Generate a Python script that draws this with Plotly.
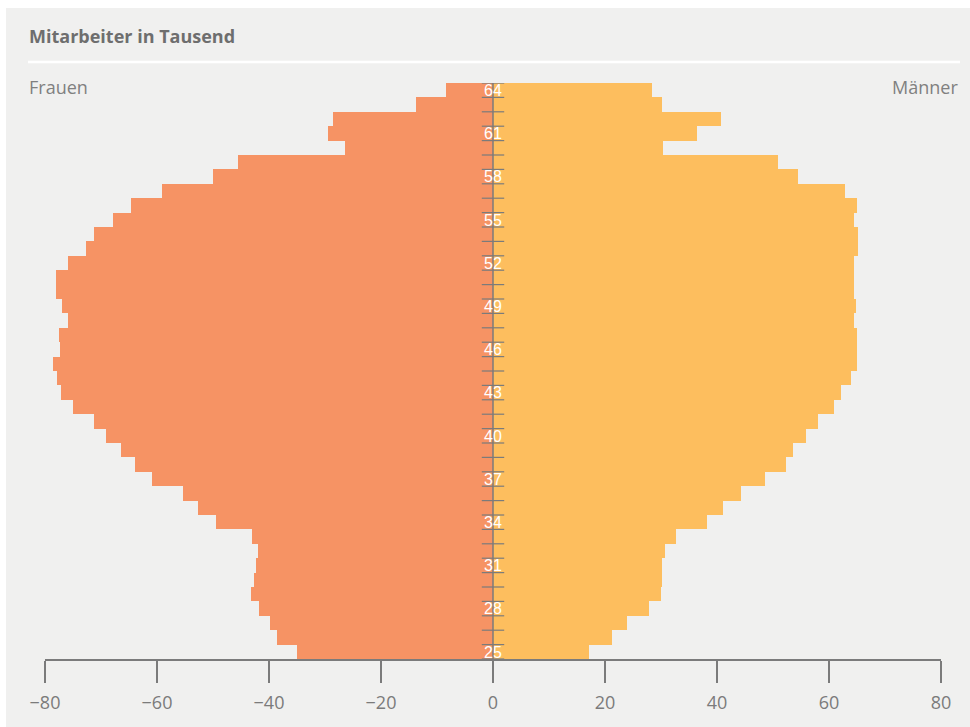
import plotly.graph_objects as go

ages = list(range(64, 24, -1))  # 64 .. 25
women = [-8.4, -13.75, -28.6, -29.5, -26.4, -45.5, -50.0, -59.1, -64.6, -67.9,
         -71.25, -72.7, -75.9, -78.0, -78.0, -77.0, -75.9, -77.5, -77.3, -78.6,
         -77.9, -77.1, -75.0, -71.25, -69.1, -66.4, -63.9, -60.9, -55.4, -52.7,
         -49.5, -43.0, -42.0, -42.3, -42.7, -43.2, -41.8, -39.8, -38.6, -35.0]
men = [28.4, 30.2, 40.7, 36.4, 30.4, 50.9, 54.5, 62.9, 65.0, 64.5,
       65.2, 65.2, 64.5, 64.5, 64.5, 64.8, 64.5, 65.0, 65.0, 65.0,
       63.9, 62.1, 60.9, 58.0, 55.9, 53.6, 52.3, 48.6, 44.3, 41.1,
       38.2, 32.7, 30.7, 30.2, 30.2, 30.0, 27.9, 23.9, 21.3, 17.1]
age_labels = list(range(64, 24, -3))  # 64, 61, ..., 25
x_ticks = [-80, -60, -40, -20, 0, 20, 40, 60, 80]

title_text = "Mitarbeiter in Tausend"
left_label = "Frauen"
right_label = "Männer"

BG = "#f0f0ef"
GRAY = "#7b7b7b"
FONT = "'Open Sans', Roboto, Arial, sans-serif"

W, H = 970, 727
ML, MR, MT, MB = 45, 29, 83, 68
PW = W - ML - MR
PH = H - MT - MB


def px_x(p):
    return (p - ML) / PW


def px_y(p):
    return (H - MB - p) / PH


fig = go.Figure()
fig.add_trace(go.Bar(y=ages, x=women, orientation="h", marker=dict(color="#f69364", line=dict(width=0)),
                     name=left_label, hoverinfo="skip"))
fig.add_trace(go.Bar(y=ages, x=men, orientation="h", marker=dict(color="#fdbe5e", line=dict(width=0)),
                     name=right_label, hoverinfo="skip"))

# center axis line
lo, hi = min(ages) - 0.5, max(ages) + 0.5
fig.add_trace(go.Scatter(x=[0, 0], y=[lo, hi], mode="lines",
                         line=dict(color=GRAY, width=1.5), hoverinfo="skip", cliponaxis=False))

# tick marks at every year boundary
tx, ty = [], []
for a in ages + [min(ages) - 1]:
    b = a + 0.5
    tx += [-2, 2, None]
    ty += [b, b, None]
fig.add_trace(go.Scatter(x=tx, y=ty, mode="lines", line=dict(color=GRAY, width=1.2),
                         hoverinfo="skip", cliponaxis=False))

# age labels
fig.add_trace(go.Scatter(x=[0] * len(age_labels), y=[a - 0.12 for a in age_labels], mode="text",
                         text=[str(a) for a in age_labels],
                         textfont=dict(color="white", size=16, family="'Liberation Sans', Arial, sans-serif"),
                         hoverinfo="skip", cliponaxis=False))

fig.update_layout(
    width=W, height=H,
    margin=dict(l=ML, r=MR, t=MT, b=MB),
    paper_bgcolor="white",
    plot_bgcolor=BG,
    barmode="overlay",
    bargap=0,
    showlegend=False,
    font=dict(family=FONT, color=GRAY),
    xaxis=dict(range=[-80, 80], tickvals=x_ticks, showgrid=False, zeroline=False,
               showline=True, linecolor=GRAY, linewidth=1.5,
               ticks="outside", ticklen=22, tickcolor=GRAY, tickwidth=1.5,
               ticklabelstandoff=5,
               tickfont=dict(size=18, color=GRAY, family=FONT), fixedrange=True),
    yaxis=dict(range=[lo, hi], visible=False, fixedrange=True),
    shapes=[
        dict(type="rect", xref="paper", yref="paper", x0=px_x(6), x1=px_x(972),
             y0=px_y(730), y1=px_y(8), fillcolor=BG, line=dict(width=0), layer="below"),
        dict(type="line", xref="paper", yref="paper", x0=px_x(28), x1=px_x(960),
             y0=px_y(62), y1=px_y(62), line=dict(color="white", width=2.5)),
    ],
    annotations=[
        dict(text="<b>" + title_text + "</b>", xref="paper", yref="paper", x=px_x(27), y=px_y(36),
             xanchor="left", yanchor="middle", showarrow=False,
             font=dict(size=18, color="#6e6e6e", family=FONT)),
        dict(text=left_label, xref="paper", yref="paper", x=px_x(27), y=px_y(87),
             xanchor="left", yanchor="middle", showarrow=False,
             font=dict(size=18, color="#808080", family=FONT)),
        dict(text=right_label, xref="paper", yref="paper", x=px_x(960), y=px_y(87),
             xanchor="right", yanchor="middle", showarrow=False,
             font=dict(size=18, color="#808080", family=FONT)),
    ],
)

fig.write_html("out.html", config={"displayModeBar": False},
               post_script="document.body.style.margin='0';document.body.style.overflow='hidden';")
